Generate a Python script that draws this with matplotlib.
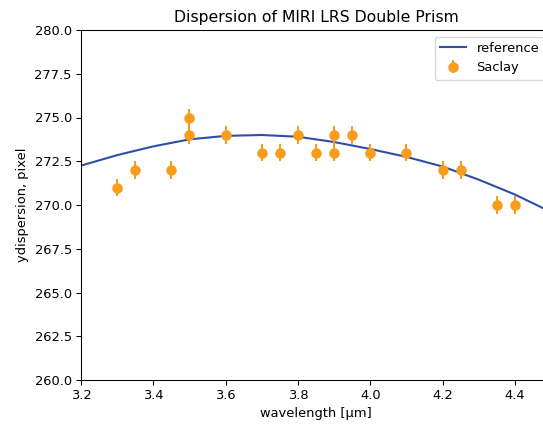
import matplotlib
matplotlib.use('Agg')
import matplotlib.pyplot as plt
import numpy as np

# reference dispersion curve
ref_wave = [3.2, 3.3, 3.4, 3.5, 3.6, 3.7, 3.8, 3.9, 4.0, 4.1, 4.2, 4.3, 4.4, 4.5]
ref_y = [272.25, 272.85, 273.35, 273.75, 273.95, 274.0, 273.9, 273.6,
         273.2, 272.75, 272.2, 271.45, 270.6, 269.6]

# Saclay measurements
saclay_wave = [3.3, 3.35, 3.45, 3.5, 3.5, 3.6, 3.7, 3.75, 3.8, 3.85,
               3.9, 3.9, 3.95, 4.0, 4.1, 4.2, 4.25, 4.35, 4.4]
saclay_y = [271, 272, 272, 275, 274, 274, 273, 273, 274, 273,
            274, 273, 274, 273, 273, 272, 272, 270, 270]
saclay_err = [0.5] * len(saclay_y)

dpi = 94
fig = plt.figure(figsize=(543 / dpi, 424 / dpi), dpi=dpi)
ax = fig.add_axes([81 / 543, 44 / 424, 470 / 543, 350 / 424])

ax.plot(ref_wave, ref_y, color='#2f4ea8', lw=1.6, label='reference')
ax.errorbar(saclay_wave, saclay_y, yerr=saclay_err, fmt='o', color='#f89c1c',
            ms=7, elinewidth=1.6, label='Saclay')

ax.set_xlim(3.2, 4.5)
ax.set_ylim(260, 280)
ax.set_xticks(np.arange(3.2, 4.41, 0.2))
ax.set_yticks(np.arange(260, 280.1, 2.5))
ax.set_xlabel('wavelength [μm]')
ax.set_ylabel('ydispersion, pixel')
ax.set_title('Dispersion of MIRI LRS Double Prism')
ax.legend(loc='upper right')

fig.savefig('out.png', dpi=dpi)
